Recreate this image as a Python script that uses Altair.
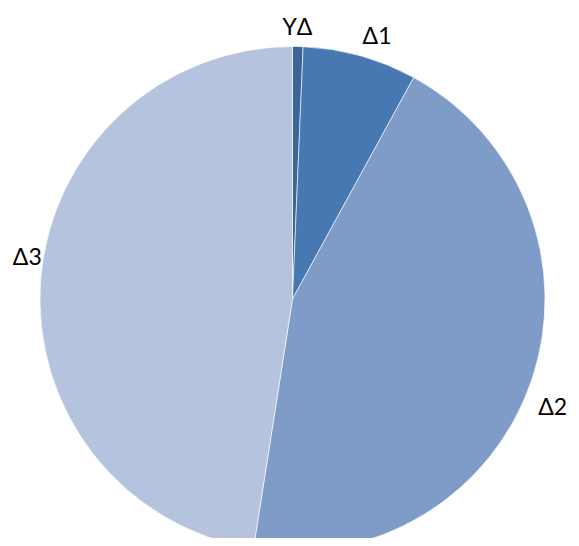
import altair as alt
import pandas as pd

labels = ["YΔ", "Δ1", "Δ2", "Δ3"]
values = [0.67, 7.3, 44.5, 47.53]
colors = ["#3b6599", "#4878b2", "#7f9bc8", "#b5c3de"]
order = [0, 1, 2, 3]
label_dx = [-1, 10, -3, 12]
label_dy = [7, 6, 19, -19]

df = pd.DataFrame({"label": labels, "value": values, "order": order})

cx, cy, R = 284.5, 291, 252.5

base = alt.Chart(df).encode(
    theta=alt.Theta("value:Q", stack=True),
    order=alt.Order("order:Q"),
)

pie = base.mark_arc(outerRadius=R, stroke="#ffffff", strokeWidth=0.6).encode(
    color=alt.Color("label:N", scale=alt.Scale(domain=labels, range=colors), legend=None),
    x=alt.value(cx),
    y=alt.value(cy),
)

layers = [pie]
for lab, ddx, ddy in zip(labels, label_dx, label_dy):
    layers.append(
        base.mark_text(radius=278, fontSize=23, font="Lato", color="#000000", dx=ddx, dy=ddy)
        .encode(text="label:N", x=alt.value(cx), y=alt.value(cy), opacity=alt.condition(
            alt.datum.label == lab, alt.value(1), alt.value(0)))
    )

chart = alt.layer(*layers).properties(
    width=563, height=530, padding=0, autosize=alt.AutoSizeParams(type="none")
).configure_view(stroke=None)

chart.save("out.html", embed_options={"renderer": "svg", "actions": False})
